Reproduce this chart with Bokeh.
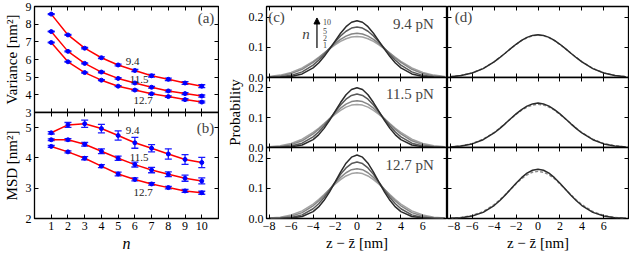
from bokeh.plotting import figure
from bokeh.layouts import row, column
from bokeh.models import (Range1d, LinearAxis, FixedTicker, Whisker, TeeHead, ColumnDataSource,
                          Label, Arrow, NormalHead, CustomJSTickFormatter, PrintfTickFormatter,
                          CustomLabelingPolicy)
from bokeh.embed import file_html
from bokeh.resources import INLINE

# ---------------- data ----------------
n_steps = [1, 2, 3, 4, 5, 6, 7, 8, 9, 10]

var_94 = [8.57, 7.39, 6.64, 6.10, 5.69, 5.38, 5.08, 4.88, 4.67, 4.49]
var_115 = [7.58, 6.46, 5.78, 5.29, 4.93, 4.67, 4.43, 4.22, 4.07, 3.93]
var_127 = [6.96, 5.87, 5.26, 4.83, 4.49, 4.27, 4.06, 3.90, 3.73, 3.59]
var_err_94 = [0.03, 0.03, 0.04, 0.05, 0.05, 0.06, 0.07, 0.07, 0.08, 0.08]
var_err_115 = [0.02, 0.03, 0.03, 0.04, 0.04, 0.05, 0.05, 0.05, 0.06, 0.06]
var_err_127 = [0.02, 0.02, 0.03, 0.03, 0.03, 0.04, 0.04, 0.04, 0.05, 0.05]

msd_94 = [4.83, 5.09, 5.13, 4.97, 4.74, 4.50, 4.32, 4.13, 3.95, 3.85]
msd_115 = [4.60, 4.60, 4.45, 4.22, 3.99, 3.78, 3.60, 3.46, 3.33, 3.24]
msd_127 = [4.38, 4.20, 3.99, 3.73, 3.47, 3.29, 3.14, 3.02, 2.91, 2.85]
msd_err_94 = [0.04, 0.08, 0.12, 0.14, 0.15, 0.18, 0.12, 0.17, 0.16, 0.17]
msd_err_115 = [0.03, 0.04, 0.06, 0.08, 0.07, 0.08, 0.09, 0.08, 0.10, 0.10]
msd_err_127 = [0.03, 0.03, 0.05, 0.05, 0.06, 0.05, 0.04, 0.04, 0.05, 0.05]

force_labels = ["9.4", "11.5", "12.7"]
force_titles = ["9.4 pN", "11.5 pN", "12.7 pN"]

z = [-8, -7, -6, -5, -4, -3.5, -3, -2.5, -2, -1.5, -1, -0.5, 0,
     0.5, 1, 1.5, 2, 2.5, 3, 3.5, 4, 5, 6, 7, 8]

c94_n1 = [0.0033, 0.0079, 0.0168, 0.0318, 0.0537, 0.0667, 0.0806, 0.0946, 0.1078, 0.1194, 0.1284, 0.1341, 0.1360,
          0.1341, 0.1284, 0.1194, 0.1078, 0.0946, 0.0806, 0.0667, 0.0537, 0.0318, 0.0168, 0.0079, 0.0033]
c94_n2 = [0.0019, 0.0054, 0.0129, 0.0271, 0.0498, 0.0641, 0.0798, 0.0961, 0.1119, 0.1260, 0.1371, 0.1442, 0.1467,
          0.1442, 0.1371, 0.1260, 0.1119, 0.0961, 0.0798, 0.0641, 0.0498, 0.0271, 0.0129, 0.0054, 0.0019]
c94_n5 = [0.0006, 0.0023, 0.0071, 0.0186, 0.0411, 0.0571, 0.0759, 0.0966, 0.1177, 0.1372, 0.1531, 0.1635, 0.1671,
          0.1635, 0.1531, 0.1372, 0.1177, 0.0966, 0.0759, 0.0571, 0.0411, 0.0186, 0.0071, 0.0023, 0.0006]
c94_n10 = [0.0002, 0.0008, 0.0034, 0.0117, 0.0318, 0.0482, 0.0692, 0.0939, 0.1206, 0.1465, 0.1683, 0.1829, 0.1881,
           0.1829, 0.1683, 0.1465, 0.1206, 0.0939, 0.0692, 0.0482, 0.0318, 0.0117, 0.0034, 0.0008, 0.0002]

c115_n1 = [0.0022, 0.0058, 0.0136, 0.0279, 0.0505, 0.0646, 0.0801, 0.0959, 0.1112, 0.1248, 0.1355, 0.1424, 0.1447,
           0.1424, 0.1355, 0.1248, 0.1112, 0.0959, 0.0801, 0.0646, 0.0505, 0.0279, 0.0136, 0.0058, 0.0022]
c115_n2 = [0.0011, 0.0035, 0.0096, 0.0226, 0.0454, 0.0608, 0.0782, 0.0968, 0.1152, 0.1319, 0.1454, 0.1541, 0.1571,
           0.1541, 0.1454, 0.1319, 0.1152, 0.0968, 0.0782, 0.0608, 0.0454, 0.0226, 0.0096, 0.0035, 0.0011]
c115_n5 = [0.0003, 0.0013, 0.0047, 0.0144, 0.0356, 0.0520, 0.0722, 0.0954, 0.1197, 0.1429, 0.1621, 0.1748, 0.1793,
           0.1748, 0.1621, 0.1429, 0.1197, 0.0954, 0.0722, 0.0520, 0.0356, 0.0144, 0.0047, 0.0013, 0.0003]
c115_n10 = [0.0001, 0.0004, 0.0021, 0.0085, 0.0265, 0.0426, 0.0642, 0.0910, 0.1210, 0.1510, 0.1769, 0.1945, 0.2007,
            0.1945, 0.1769, 0.1510, 0.1210, 0.0910, 0.0642, 0.0426, 0.0265, 0.0085, 0.0021, 0.0004, 0.0001]

c127_n1 = [0.0015, 0.0045, 0.0114, 0.0251, 0.0479, 0.0627, 0.0792, 0.0965, 0.1135, 0.1287, 0.1408, 0.1486, 0.1513,
           0.1486, 0.1408, 0.1287, 0.1135, 0.0965, 0.0792, 0.0627, 0.0479, 0.0251, 0.0114, 0.0045, 0.0015]
c127_n2 = [0.0007, 0.0025, 0.0076, 0.0195, 0.0420, 0.0579, 0.0764, 0.0967, 0.1172, 0.1361, 0.1514, 0.1615, 0.1649,
           0.1615, 0.1514, 0.1361, 0.1172, 0.0967, 0.0764, 0.0579, 0.0420, 0.0195, 0.0076, 0.0025, 0.0007]
c127_n5 = [0.0002, 0.0009, 0.0036, 0.0120, 0.0322, 0.0486, 0.0695, 0.0940, 0.1204, 0.1460, 0.1675, 0.1819, 0.1870,
           0.1819, 0.1675, 0.1460, 0.1204, 0.0940, 0.0695, 0.0486, 0.0322, 0.0120, 0.0036, 0.0009, 0.0002]
c127_n10 = [0.0000, 0.0002, 0.0014, 0.0065, 0.0228, 0.0384, 0.0602, 0.0883, 0.1206, 0.1538, 0.1830, 0.2031, 0.2103,
            0.2031, 0.1830, 0.1538, 0.1206, 0.0883, 0.0602, 0.0384, 0.0228, 0.0065, 0.0014, 0.0002, 0.0000]

d94_solid = [0.0025, 0.0065, 0.0147, 0.0294, 0.0517, 0.0655, 0.0803, 0.0955, 0.1100, 0.1228, 0.1329, 0.1393, 0.1415,
             0.1393, 0.1329, 0.1228, 0.1100, 0.0955, 0.0803, 0.0655, 0.0517, 0.0294, 0.0147, 0.0065, 0.0025]
d94_dash = [0.0027, 0.0068, 0.0152, 0.0300, 0.0522, 0.0658, 0.0804, 0.0953, 0.1095, 0.1220, 0.1318, 0.1380, 0.1402,
            0.1380, 0.1318, 0.1220, 0.1095, 0.0953, 0.0804, 0.0658, 0.0522, 0.0300, 0.0152, 0.0068, 0.0027]
d115_solid = [0.0017, 0.0049, 0.0121, 0.0261, 0.0488, 0.0634, 0.0795, 0.0964, 0.1127, 0.1274, 0.1390, 0.1464, 0.1490,
              0.1464, 0.1390, 0.1274, 0.1127, 0.0964, 0.0795, 0.0634, 0.0488, 0.0261, 0.0121, 0.0049, 0.0017]
d115_dash = [0.0021, 0.0057, 0.0135, 0.0278, 0.0504, 0.0646, 0.0800, 0.0960, 0.1113, 0.1250, 0.1357, 0.1426, 0.1450,
             0.1426, 0.1357, 0.1250, 0.1113, 0.0960, 0.0800, 0.0646, 0.0504, 0.0278, 0.0135, 0.0057, 0.0021]
d127_solid = [0.0008, 0.0027, 0.0081, 0.0202, 0.0429, 0.0586, 0.0769, 0.0968, 0.1167, 0.1351, 0.1500, 0.1596, 0.1630,
              0.1596, 0.1500, 0.1351, 0.1167, 0.0968, 0.0769, 0.0586, 0.0429, 0.0202, 0.0081, 0.0027, 0.0008]
d127_dash = [0.0012, 0.0037, 0.0100, 0.0231, 0.0459, 0.0612, 0.0784, 0.0967, 0.1149, 0.1314, 0.1445, 0.1531, 0.1560,
             0.1531, 0.1445, 0.1314, 0.1149, 0.0967, 0.0784, 0.0612, 0.0459, 0.0231, 0.0100, 0.0037, 0.0012]

n_ticks = [1, 2, 3, 4, 5, 6, 7, 8, 9, 10]
var_ticks = [3, 4, 5, 6, 7, 8, 9]
msd_ticks = [2, 3, 4, 5]
prob_ticks = [0.0, 0.1, 0.2]
z_ticks = [-8, -6, -4, -2, 0, 2, 4, 6]
arrow_labels = ["10", "5", "2", "1"]

# ---------------- styling ----------------
FONT = "Liberation Serif, DejaVu Serif, serif"
TICK_SIZE = "12px"
GRAYS = ["#a3a3a3", "#868686", "#595959", "#2b2b2b"]
TB = 6  # transparent top / bottom border that lets edge labels overlap the neighbour


def style_axis(ax, labels):
    ax.major_tick_in = 4
    ax.major_tick_out = 0
    ax.minor_tick_in = 0
    ax.minor_tick_out = 0
    ax.axis_line_color = None
    ax.major_tick_line_color = "black"
    ax.major_tick_line_width = 1
    ax.major_label_text_font = FONT
    ax.major_label_text_color = "black"
    if labels:
        ax.major_label_text_font_size = TICK_SIZE
        ax.major_label_standoff = 3
    else:
        ax.major_label_text_font_size = "0px"
        ax.major_label_standoff = 0
        ax.major_label_policy = CustomLabelingPolicy(
            code="for (const i of indices) { indices.unset(i) } return indices")
    ax.axis_label_text_font = FONT
    ax.axis_label_text_font_style = "normal"
    ax.axis_label_text_color = "black"
    ax.axis_label_text_font_size = "15px"
    ax.axis_label_standoff = 3


def make(xr, yr, fw, fh, bl, br, bt, bb, xt, yt, xlab, ylab, xfmt=None, yfmt=None, shift=0):
    p = figure(frame_width=fw, frame_height=fh, x_range=Range1d(*xr), y_range=Range1d(*yr),
               output_backend="svg", toolbar_location=None,
               min_border_left=bl, min_border_right=br, min_border_top=bt, min_border_bottom=bb)
    p.title.visible = False
    p.grid.visible = False
    p.border_fill_alpha = 0
    p.outline_line_color = "black"
    p.outline_line_width = 1.3
    p.outline_line_alpha = 1.0
    if shift:
        p.styles = {"margin-top": f"-{shift}px"}
    bx = p.below[0]
    ly = p.left[0]
    bx.ticker = FixedTicker(ticks=xt)
    ly.ticker = FixedTicker(ticks=yt)
    style_axis(bx, xlab)
    style_axis(ly, ylab)
    if xfmt is not None:
        bx.formatter = xfmt
    if yfmt is not None:
        ly.formatter = yfmt
    top = LinearAxis(ticker=FixedTicker(ticks=xt))
    style_axis(top, False)
    p.add_layout(top, "above")
    right = LinearAxis(ticker=FixedTicker(ticks=yt))
    style_axis(right, False)
    p.add_layout(right, "right")
    return p


minus_fmt = CustomJSTickFormatter(code="return tick < 0 ? '\u2212' + Math.abs(tick) : tick.toString();")
prob_fmt = PrintfTickFormatter(format="%.1f")


def add_series(p, vals, errs):
    src = ColumnDataSource(dict(x=n_steps, y=vals,
                                up=[v + e for v, e in zip(vals, errs)],
                                lo=[v - e for v, e in zip(vals, errs)]))
    p.line("x", "y", source=src, line_color="#ff0000", line_width=1.5)
    p.add_layout(Whisker(base="x", upper="up", lower="lo", source=src, line_color="#1a1aff", line_width=1.3,
                         upper_head=TeeHead(size=7, line_color="#1a1aff", line_width=1.3),
                         lower_head=TeeHead(size=7, line_color="#1a1aff", line_width=1.3)))
    p.scatter("x", "y", source=src, size=4, color="#0000ff")


# ---------------- panel (a) ----------------
FW_A = 184
pa = make((0, 11), (3, 9), FW_A, 106, 27, 1, TB, TB, n_ticks, var_ticks, False, True)
pa.left[0].axis_label = "Variance [nm²]"
for vals, errs in [(var_94, var_err_94), (var_115, var_err_115), (var_127, var_err_127)]:
    add_series(pa, vals, errs)
for lab, (lx, ly) in zip(force_labels, [(5.45, 5.86), (5.69, 4.89), (5.92, 3.70)]):
    pa.add_layout(Label(x=lx, y=ly, text=lab, text_font=FONT, text_font_size="11px",
                        text_baseline="middle", text_align="left", text_color="#222222"))
pa.add_layout(Label(x=10.75, y=8.35, text="(a)", text_font=FONT, text_font_size="15px",
                    text_baseline="middle", text_align="right"))

# ---------------- panel (b) ----------------
pb = make((0, 11), (2, 5.5), FW_A, 106, 27, 1, TB, 30, n_ticks, msd_ticks, True, True, shift=2 * TB)
pb.left[0].axis_label = "MSD [nm²]"
pb.below[0].axis_label = "n"
pb.below[0].axis_label_text_font_style = "italic"
pb.below[0].axis_label_text_font_size = "16px"
pb.below[0].axis_label_standoff = 2
for vals, errs in [(msd_94, msd_err_94), (msd_115, msd_err_115), (msd_127, msd_err_127)]:
    add_series(pb, vals, errs)
for lab, (lx, ly) in zip(force_labels, [(5.45, 4.92), (5.69, 4.03), (5.92, 2.87)]):
    pb.add_layout(Label(x=lx, y=ly, text=lab, text_font=FONT, text_font_size="11px",
                        text_baseline="middle", text_align="left", text_color="#222222"))
pb.add_layout(Label(x=10.75, y=5.0, text="(b)", text_font=FONT, text_font_size="15px",
                    text_baseline="middle", text_align="right"))

# ---------------- panels (c) and (d) ----------------
XR = (-8.25, 8.25)
YR = (0, 0.235)
FW_C = 181
heights = [71, 70, 71]
bottoms = [TB, TB, 30]
shifts = [0, 2 * TB, 2 * TB]
c_curves = [[c94_n1, c94_n2, c94_n5, c94_n10],
            [c115_n1, c115_n2, c115_n5, c115_n10],
            [c127_n1, c127_n2, c127_n5, c127_n10]]
d_curves = [[d94_solid, d94_dash], [d115_solid, d115_dash], [d127_solid, d127_dash]]

c_figs = []
d_figs = []
for i in range(3):
    last = (i == 2)
    pc = make(XR, YR, FW_C, heights[i], 47, 0, TB, bottoms[i], z_ticks, prob_ticks, last, True,
              xfmt=minus_fmt, yfmt=prob_fmt, shift=shifts[i])
    for col, ys in zip(GRAYS, c_curves[i]):
        pc.line(z, ys, line_color=col, line_width=1.5)
    pc.add_layout(Label(x=7.0, y=0.178, text=force_titles[i], text_font=FONT, text_font_size="15px",
                        text_baseline="middle", text_align="right"))
    if i == 1:
        pc.left[0].axis_label = "Probability"
    if last:
        pc.below[0].axis_label = "z − z̄ [nm]"
        pc.below[0].axis_label_standoff = 2
    c_figs.append(pc)

    pd = make(XR, YR, FW_C, heights[i], 0, 1, TB, bottoms[i], z_ticks, prob_ticks, last, False,
              xfmt=minus_fmt, shift=shifts[i])
    solid, dash = d_curves[i]
    pd.line(z, dash, line_color="#8a8a8a", line_width=1.4, line_dash="3 2")
    pd.line(z, solid, line_color="#2b2b2b", line_width=1.5)
    if last:
        pd.below[0].axis_label = "z − z̄ [nm]"
        pd.below[0].axis_label_standoff = 2
    d_figs.append(pd)

c0 = c_figs[0]
c0.add_layout(Label(x=-8.1, y=0.2, text="(c)", text_font=FONT, text_font_size="15px",
                    text_baseline="middle", text_align="left"))
d_figs[0].add_layout(Label(x=-7.6, y=0.2, text="(d)", text_font=FONT, text_font_size="15px",
                           text_baseline="middle", text_align="left"))
c0.add_layout(Arrow(end=NormalHead(size=6, fill_color="black", line_color="black"),
                    x_start=-3.65, y_start=0.098, x_end=-3.65, y_end=0.197,
                    line_color="black", line_width=1.2))
c0.add_layout(Label(x=-4.65, y=0.143, text="n", text_font=FONT, text_font_size="15px",
                    text_font_style="italic", text_baseline="middle", text_align="center"))
for lab, ly in zip(arrow_labels, [0.184, 0.155, 0.130, 0.108]):
    c0.add_layout(Label(x=-3.1, y=ly, text=lab, text_font=FONT, text_font_size="8px",
                        text_baseline="middle", text_align="left"))

layout = row(column(pa, pb), column(*c_figs), column(*d_figs))

with open("out.html", "w") as f:
    f.write(file_html(layout, INLINE))
